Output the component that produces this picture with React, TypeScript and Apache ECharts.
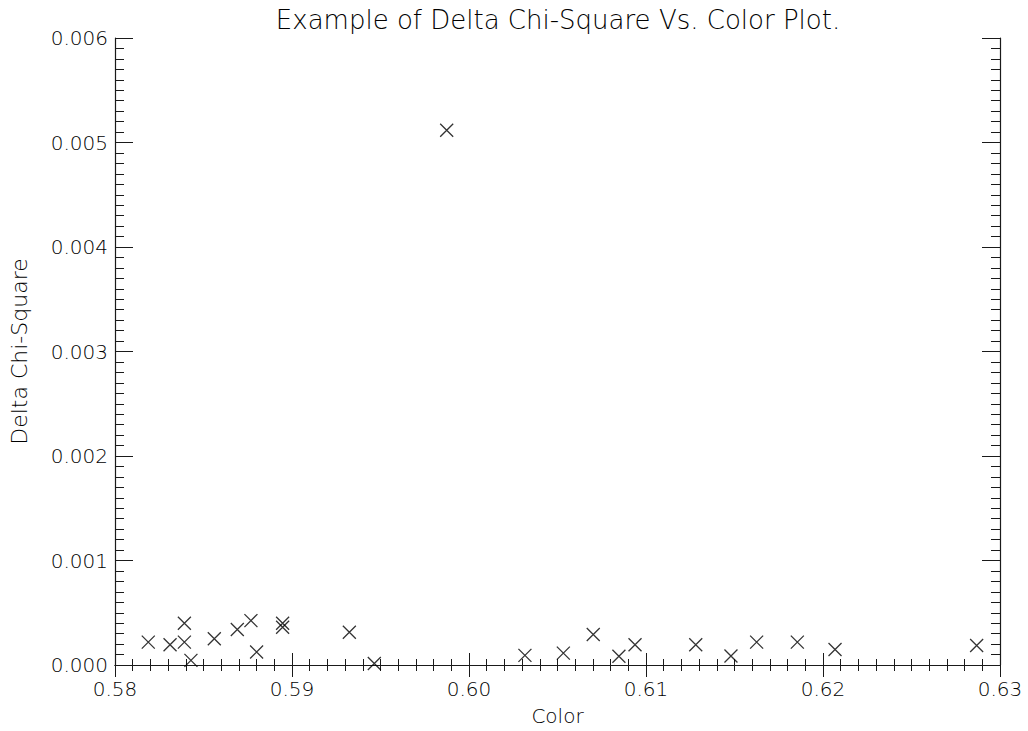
import React, { useEffect, useRef } from "react";
import * as echarts from "echarts";

const titleText = "Example of Delta Chi-Square Vs. Color Plot.";
const xName = "Color";
const yName = "Delta Chi-Square";

const colorValues = [
  0.58188, 0.58311, 0.58392, 0.58392, 0.58429, 0.58561, 0.58691, 0.58768,
  0.588, 0.58947, 0.58947, 0.59324, 0.59465, 0.59874, 0.60316, 0.60533,
  0.60702, 0.60847, 0.60938, 0.61281, 0.6148, 0.61625, 0.61855, 0.62068,
  0.62868,
];
const deltaChiSq = [
  0.000219, 0.000194, 0.0004, 0.000219, 0.000044, 0.000251, 0.00034, 0.000425,
  0.000124, 0.0004, 0.000362, 0.000314, 0.000015, 0.005117, 0.000092,
  0.000114, 0.000292, 0.000083, 0.000194, 0.000194, 0.000086, 0.000219,
  0.000219, 0.000149, 0.000187,
];

const xMin = 0.58;
const xMax = 0.63;
const xStep = 0.01;
const yMin = 0;
const yMax = 0.006;
const yStep = 0.001;

const FONT = "DejaVu Sans";
const INK = "#000000";
const LINE = "#1a1a1a";

export default function App() {
  const ref = useRef<HTMLDivElement>(null);
  useEffect(() => {
    document.body.style.margin = "0";
    if (!ref.current) return;
    const chart = echarts.init(ref.current, null, { renderer: "svg" });
    const points = colorValues.map((x, i) => [x, deltaChiSq[i]]);
    const axisLine = { show: true, lineStyle: { color: LINE, width: 1.2 } };
    const xCommon = {
      type: "value" as const,
      min: xMin,
      max: xMax,
      interval: xStep,
      splitLine: { show: false },
      axisLine,
      axisTick: { show: true, inside: true, length: 12, lineStyle: { color: LINE, width: 1 } },
      minorTick: { show: true, splitNumber: 10, length: 6, lineStyle: { color: LINE, width: 1 } },
    };
    const yCommon = {
      type: "value" as const,
      min: yMin,
      max: yMax,
      interval: yStep,
      splitLine: { show: false },
      axisLine,
      axisTick: { show: true, inside: true, length: 18, lineStyle: { color: LINE, width: 1 } },
      minorTick: { show: true, splitNumber: 10, length: 9, lineStyle: { color: LINE, width: 1 } },
    };
    chart.setOption({
      animation: false,
      backgroundColor: "#fff",
      title: {
        text: titleText,
        left: 553,
        textAlign: "center",
        top: 2,
        textStyle: { fontFamily: FONT, fontSize: 26, fontWeight: 200, color: INK },
      },
      grid: { left: 115, right: 28, top: 38, bottom: 63, containLabel: false },
      xAxis: [
        {
          ...xCommon,
          position: "bottom",
          name: xName,
          nameLocation: "middle",
          nameGap: 41,
          nameTextStyle: { fontFamily: FONT, fontSize: 20, fontWeight: 200, color: INK },
          axisLabel: {
            margin: 14,
            fontFamily: FONT,
            fontSize: 20,
            fontWeight: 200,
            color: INK,
            formatter: (v: number) => v.toFixed(2),
          },
        },
        { ...xCommon, position: "top", axisLabel: { show: false } },
      ],
      yAxis: [
        {
          ...yCommon,
          position: "left",
          name: yName,
          nameLocation: "middle",
          nameGap: 85,
          nameRotate: 90,
          nameTextStyle: { fontFamily: FONT, fontSize: 22, fontWeight: 200, color: INK },
          axisLabel: {
            margin: 7,
            fontFamily: FONT,
            fontSize: 20,
            fontWeight: 200,
            color: INK,
            formatter: (v: number) => v.toFixed(3),
          },
        },
        { ...yCommon, position: "right", axisLabel: { show: false } },
      ],
      series: [
        {
          type: "scatter",
          xAxisIndex: 0,
          yAxisIndex: 0,
          data: points,
          symbol: "path://M0,0L10,10M10,0L0,10",
          symbolSize: 13,
          itemStyle: { color: "transparent", borderColor: "#000", borderWidth: 1.3 },
          emphasis: { disabled: true },
        },
      ],
    });
    return () => chart.dispose();
  }, []);
  return <div ref={ref} style={{ width: 1028, height: 731 }} />;
}
